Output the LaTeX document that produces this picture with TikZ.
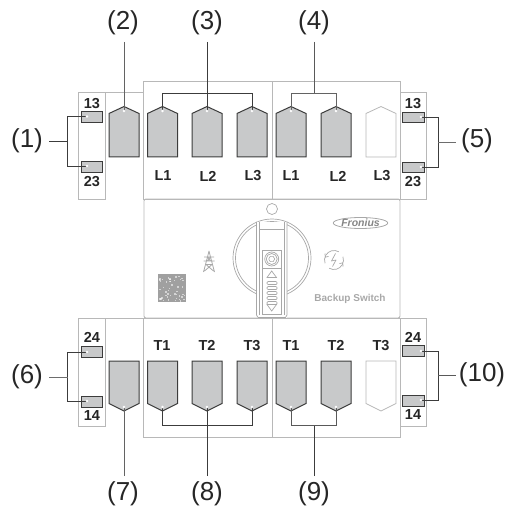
\documentclass[tikz,border=0pt]{standalone}
\usepackage{fontspec}
\setmainfont{Liberation Sans}
\usetikzlibrary{shapes.geometric}
\definecolor{boxc}{HTML}{B8B8B8}
\definecolor{tagc}{HTML}{C8C9CA}
\definecolor{linec}{HTML}{3C3C3C}
\definecolor{panelc}{HTML}{A8A8A8}
\tikzset{
  boxline/.style={draw=boxc,line width=0.9pt},
  tagshape/.style={draw=linec,fill=tagc,line width=1pt,line join=miter},
  emptytag/.style={draw=boxc,fill=white,line width=0.8pt},
  term/.style={draw=linec,fill=tagc,line width=0.8pt},
  leader/.style={draw=linec,line width=0.9pt},
  callout/.style={font=\fontsize{26}{26}\selectfont,text=black!85,inner sep=0pt,anchor=center},
  small/.style={font=\fontsize{14.5}{14.5}\bfseries\selectfont,text=black!85,inner sep=0pt,anchor=center},
  panel/.style={draw=panelc,line width=0.7pt},
  jointdot/.style={fill=white,draw=none,circle,inner sep=0pt,minimum size=2.6pt}
}
\newcommand{\tagup}[3][tagshape]{\path[#1] (#3-15,157)--(#3-15,113.5)--(#3,106.5)--(#3+15,113.5)--(#3+15,157)--cycle;\coordinate (#2) at (#3,111);}
\newcommand{\tagdn}[3][tagshape]{\path[#1] (#3-15,361)--(#3+15,361)--(#3+15,403.5)--(#3,411)--(#3-15,403.5)--cycle;\coordinate (#2) at (#3,407);}
\begin{document}
\begin{tikzpicture}[x=1pt,y=-1pt]
\useasboundingbox (0,0) rectangle (505,510);
% boxes
\draw[boxline] (78.5,92.5) rectangle (105.5,199);
\draw[boxline] (105.5,92.5) -- (143.5,92.5);
\draw[boxline] (143.5,81.5) rectangle (400,199);
\draw[boxline] (272.5,81.5) -- (272.5,199);
\draw[boxline] (400,92.5) -- (426,92.5) -- (426,199) -- (400,199);
\draw[boxline] (78.5,318) rectangle (105.5,426);
\draw[boxline] (105.5,318) -- (143.5,318);
\draw[boxline] (143.5,318) rectangle (400,437);
\draw[boxline] (272.5,318) -- (272.5,437);
\draw[boxline] (400,318) -- (426,318) -- (426,426) -- (400,426);
\draw[boxline,rounded corners=2pt] (144,199) rectangle (400,318);
% top tags
\tagup{a}{124}
\tagup{b}{162.5}
\tagup{c}{207}
\tagup{d}{252}
\tagup{e}{291}
\tagup{f}{336}
\tagup[emptytag]{g}{381}
% bottom tags
\tagdn{h}{124}
\tagdn{i}{162.5}
\tagdn{j}{207}
\tagdn{k}{252}
\tagdn{l}{291}
\tagdn{m}{336}
\tagdn[emptytag]{n}{381}
% terminals
\draw[term] (81.5,111.5) rectangle (102,122);
\draw[term] (81.5,161.5) rectangle (102,172);
\draw[term] (402.5,112) rectangle (424,122);
\draw[term] (402.5,162) rectangle (424,172);
\draw[term] (81.5,346.5) rectangle (102,357);
\draw[term] (81.5,396.5) rectangle (102,407);
\draw[term] (402.5,345.5) rectangle (424,356);
\draw[term] (402.5,395.5) rectangle (424,406);
\coordinate (t1) at (87,116.5);\coordinate (t2) at (87,166);
\coordinate (t3) at (421,117);\coordinate (t4) at (421,167);
\coordinate (t5) at (87,352);\coordinate (t6) at (87,401);
\coordinate (t7) at (421,351);\coordinate (t8) at (421,400);
% terminal numbers
\node[small] (n13l) at (92,103.5) {13};
\node[small] (n23l) at (92,182) {23};
\node[small] (n13r) at (413,103.5) {13};
\node[small] (n23r) at (413,182) {23};
\node[small] (n24l) at (92,337) {24};
\node[small] (n14l) at (92,416) {14};
\node[small] (n24r) at (413,337) {24};
\node[small] (n14r) at (413,415) {14};
% phase labels
\foreach \nm/\x/\t in {pa/163/L1,pb/208/L2,pc/253/L3,pd/291/L1,pe/338/L2,pf/382/L3}
  \node[small] (\nm) at (\x,176) {\t};
\foreach \nm/\x/\t in {qa/162/T1,qb/207/T2,qc/252/T3,qd/291/T1,qe/336/T2,qf/381/T3}
  \node[small] (\nm) at (\x,345.5) {\t};
% callouts
\node[callout] (c1) at (27,141) {(1)};
\node[callout] (c2) at (123,22.5) {(2)};
\node[callout] (c3) at (207,22.5) {(3)};
\node[callout] (c4) at (314,22.5) {(4)};
\node[callout] (c5) at (477,140.5) {(5)};
\node[callout] (c6) at (27,377) {(6)};
\node[callout] (c7) at (123,493.5) {(7)};
\node[callout] (c8) at (207,493.5) {(8)};
\node[callout] (c9) at (314,493.5) {(9)};
\node[callout] (c10) at (482,375) {(10)};
% leaders
\coordinate (ca) at (124,42);\coordinate (cc) at (207,42);\coordinate (ce) at (314,42);
\coordinate (ch) at (124,476);\coordinate (cj) at (207,476);\coordinate (cl) at (314,476);
\coordinate (s1) at (49,141);\coordinate (s5) at (456,142);\coordinate (s6) at (49,377);\coordinate (s10) at (456,375);
\draw[leader,draw=linec!80] (ca)--(a);
\draw[leader] (cc)--(c);
\draw[leader,draw=linec!85] (ce)--(314,93);
\draw[leader] (b)--(162.5,93.5)--(252,93.5)--(d);
\draw[leader,draw=linec!80] (e)--(291,93.5)--(336,93.5)--(f);
\draw[leader,draw=linec!80] (ch)--(h);
\draw[leader] (cj)--(j);
\draw[leader] (cl)--(314,425);
\draw[leader] (i)--(162.5,425)--(252,425)--(k);
\draw[leader,draw=linec!85] (l)--(291,425)--(336,425)--(m);
\draw[leader] (t1)--(67.5,116.5)--(67.5,166)--(t2);
\draw[leader] (s1)--(67.5,141);
\draw[leader] (t3)--(438,117)--(438,167)--(t4);
\draw[leader,draw=linec!75] (438,142)--(s5);
\draw[leader] (t5)--(67.5,352)--(67.5,401)--(t6);
\draw[leader,draw=linec!75] (s6)--(67.5,377);
\draw[leader] (t7)--(438,351)--(438,400)--(t8);
\draw[leader,draw=linec!85] (438,375)--(s10);
\foreach \p in {a,b,c,d,e,f,h,i,j,k,l,m,t1,t2,t3,t4,t5,t6,t7,t8}
  \node[jointdot] (dot\p) at (\p) {};
% middle panel
\draw[panel] (272,209) circle[radius=5.5pt];
\draw[panel] (272,258) circle[radius=39pt];
\draw[panel] (272,258) circle[radius=36.5pt];
\fill[white] (256.5,222) rectangle (287,317.5);
\draw[panel] (256.5,222) -- (256.5,315) -- (258,317.5) -- (285.5,317.5) -- (287,315) -- (287,222);
\draw[panel] (259.5,222) -- (259.5,315);
\draw[panel] (284,222) -- (284,315);
\draw[panel] (259.5,229) -- (284,229);
\draw[panel,fill=white] (262,250.5) rectangle (281.5,268);
\draw[panel,fill=white] (262,268) rectangle (281.5,314);
\draw[panel] (271.7,259) circle[radius=7pt];
\draw[panel] (271.7,259) circle[radius=5.5pt];
\node[regular polygon,regular polygon sides=6,draw=panelc,line width=0.6pt,minimum size=6pt,inner sep=0pt] (screw) at (271.7,259) {};
\draw[panel] (271.7,271) -- (276.5,277.5) -- (267,277.5) -- cycle;
\draw[panel] (271.7,311) -- (276.5,304.5) -- (267,304.5) -- cycle;
\foreach \y in {283,288,293,298,303}
  \draw[panel,rounded corners=1pt] (267,\y-1.5) rectangle (277,\y+1.5);
% pylon
\draw[panel,line width=0.8pt,line join=round] (203.5,272) -- (207.5,257) -- (209,251) -- (210.5,257) -- (214.5,272)
  (204,257) -- (214,257) (203.5,261) -- (214.5,261) (206,264.5) -- (212,264.5) (206,264.5) -- (213.5,271) (212,264.5) -- (204.5,271) (207.5,257) -- (210.5,261) (210.5,257) -- (207.5,261);
% renewable icon
\draw[panel] ([shift={(334,260)}]60:9.5pt) arc[start angle=60,end angle=200,radius=9.5pt];
\draw[panel] ([shift={(334,260)}]240:9.5pt) arc[start angle=240,end angle=380,radius=9.5pt];
\draw[panel] (325,253.5) -- (325.2,257.2) -- (328.5,256.4);
\draw[panel] (343,266.5) -- (342.8,262.8) -- (339.5,263.6);
\draw[panel,line join=round] (335.5,253.5) -- (331.5,261) -- (336,260) -- (332.5,266.5);
% QR square
\fill[panelc!95!black] (158,274) rectangle (186,302);
\pgfmathsetseed{7}
\foreach \i in {1,...,45}{
  \pgfmathsetmacro{\qx}{158.5+26*rnd}
  \pgfmathsetmacro{\qy}{274.5+26*rnd}
  \fill[white,opacity=.55] (\qx,\qy) rectangle +(1.4,1.4);
}
% logo and name
\node[ellipse,draw=panelc,line width=0.8pt,minimum width=49pt,minimum height=11pt,inner sep=0pt,
  font=\fontsize{10.5}{10.5}\bfseries\itshape\selectfont,text=panelc!80!black] (logo) at (360.5,223) {Fronius};
\node[font=\fontsize{10}{10}\bfseries\selectfont,text=panelc,inner sep=0pt] (name) at (350,299) {Backup Switch};
\end{tikzpicture}
\end{document}
